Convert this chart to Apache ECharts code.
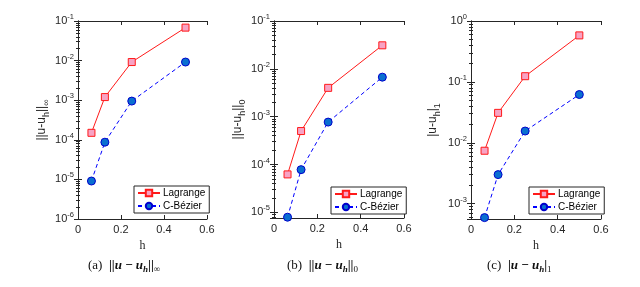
<!DOCTYPE html>
<html>
<head>
<meta charset="utf-8">
<script src="https://cdn.jsdelivr.net/npm/echarts@6/dist/echarts.min.js"></script>
<style>
html,body{margin:0;padding:0;background:#fff;}
#c{width:640px;height:287px;}
</style>
</head>
<body>
<div id="c"></div>
<script>
// ---- data ----
const hValues = [0.0625, 0.125, 0.25, 0.5];
const seriesNames = ['Lagrange', 'C-Bézier'];
const lagInf = [1.5e-4, 1.2e-3, 9.2e-3, 6.8e-2];
const bezInf = [9.1e-6, 8.7e-5, 9.5e-4, 9.2e-3];
const lagL2 = [6.2e-5, 5.0e-4, 4.0e-3, 3.1e-2];
const bezL2 = [7.9e-6, 7.8e-5, 7.7e-4, 6.7e-3];
const lagH1 = [7.4e-3, 3.1e-2, 1.24e-1, 5.8e-1];
const bezH1 = [5.9e-4, 3.0e-3, 1.56e-2, 6.2e-2];
const xTicks = [0, 0.2, 0.4, 0.6];
const yRanges = [[1e-6, 1e-1], [7.6e-6, 1e-1], [5.6e-4, 1]];
const yNames = ['{m|||u-u}{s|h}{m|||}{s|∞}', '{m|||u-u}{s|h}{m|||}{s|0}', '{m||u-u}{s|h}{m||}{s|1}'];
const captions = [
  '{n|(a)  }{b|||}{bi|u}{b| − }{bi|u}{si|h}{b|||}{s|∞}',
  '{n|(b)  }{b|||}{bi|u}{b| − }{bi|u}{si|h}{b|||}{s|0}',
  '{n|(c)  }{b||}{bi|u}{b| − }{bi|u}{si|h}{b||}{s|1}'
];

// ---- layout ----
const grids = [
  {left: 78, top: 21, width: 129, height: 198},
  {left: 274, top: 21, width: 130, height: 197},
  {left: 471, top: 21, width: 130, height: 198}
];
const nameGaps = [27, 25, 29];
const legendPos = [[134, 186], [331, 187], [529, 187]];
const captionPos = [[88, 259], [287, 259], [487, 259]];
const panels = [[lagInf, bezInf], [lagL2, bezL2], [lagH1, bezH1]];

const FONT = 'Liberation Sans';
const SERIF = 'Liberation Serif';
const RED = '#ff1a1a';
const BLUE = '#0000ff';

function powLabel(v) {
  const l = Math.log10(v);
  const n = Math.round(l);
  if (Math.abs(l - n) > 1e-6) return '';
  return '{b|10}{e|' + n + '}';
}

const option = {
  animation: false,
  backgroundColor: '#fff',
  textStyle: {fontFamily: FONT},
  grid: [], xAxis: [], yAxis: [], series: [], legend: [], graphic: []
};

panels.forEach((p, i) => {
  option.grid.push(Object.assign({containLabel: false}, grids[i]));
  const axLine = {show: true, lineStyle: {color: '#262626', width: 1}};
  option.xAxis.push({
    type: 'value', gridIndex: i, min: xTicks[0], max: xTicks[xTicks.length - 1], interval: 0.2,
    position: 'bottom',
    axisLine: axLine,
    axisTick: {inside: true, length: 4, lineStyle: {color: '#262626'}},
    axisLabel: {fontSize: 11, color: '#262626', margin: 5, fontFamily: FONT},
    splitLine: {show: false},
    name: 'h', nameLocation: 'middle', nameGap: 20,
    nameTextStyle: {fontFamily: SERIF, fontSize: 12, color: '#262626'}
  });
  option.xAxis.push({
    type: 'value', gridIndex: i, min: xTicks[0], max: xTicks[xTicks.length - 1], interval: 0.2,
    position: 'top',
    axisLine: axLine,
    axisTick: {inside: true, length: 4, lineStyle: {color: '#262626'}},
    axisLabel: {show: false}, splitLine: {show: false}
  });
  option.yAxis.push({
    type: 'log', logBase: 10, gridIndex: i, min: yRanges[i][0], max: yRanges[i][1],
    position: 'left',
    axisLine: axLine,
    axisTick: {inside: true, length: 4, lineStyle: {color: '#262626'}},
    minorTick: {show: true, splitNumber: 9, length: 2, lineStyle: {color: '#262626'}},
    axisLabel: {
      formatter: powLabel, margin: 4, color: '#262626',
      rich: {
        b: {fontSize: 11, fontFamily: FONT, color: '#262626', lineHeight: 16},
        e: {fontSize: 7.5, fontFamily: FONT, color: '#262626', verticalAlign: 'top'}
      }
    },
    splitLine: {show: false},
    name: yNames[i], nameLocation: 'middle', nameGap: nameGaps[i], nameRotate: 90,
    nameTextStyle: {
      color: '#262626',
      rich: {
        m: {fontSize: 12, fontFamily: FONT, color: '#262626', lineHeight: 19},
        s: {fontSize: 9, fontFamily: FONT, color: '#262626', verticalAlign: 'bottom'}
      }
    }
  });
  option.yAxis.push({
    type: 'log', logBase: 10, gridIndex: i, min: yRanges[i][0], max: yRanges[i][1],
    position: 'right',
    axisLine: axLine,
    axisTick: {inside: true, length: 4, lineStyle: {color: '#262626'}},
    minorTick: {show: true, splitNumber: 9, length: 2, lineStyle: {color: '#262626'}},
    axisLabel: {show: false}, splitLine: {show: false}
  });

  const xi = i * 2, yi = i * 2;
  option.series.push({
    name: seriesNames[0], type: 'line', xAxisIndex: xi, yAxisIndex: yi,
    data: hValues.map((h, k) => [h, p[0][k]]),
    symbol: 'rect', symbolSize: 7,
    lineStyle: {color: RED, width: 1},
    itemStyle: {color: '#f7a3c4', borderColor: RED, borderWidth: 1},
    clip: false, z: 3
  });
  option.series.push({
    name: seriesNames[1], type: 'line', xAxisIndex: xi, yAxisIndex: yi,
    data: hValues.map((h, k) => [h, p[1][k]]),
    symbol: 'circle', symbolSize: 8,
    lineStyle: {color: BLUE, width: 1, type: [4, 3]},
    itemStyle: {color: '#0a6fd0', borderColor: '#0000cc', borderWidth: 1},
    clip: false, z: 3
  });

  option.legend.push({
    data: seriesNames.slice(),
    orient: 'vertical',
    left: legendPos[i][0], top: legendPos[i][1],
    itemWidth: 22, itemHeight: 8, itemGap: 3,
    padding: [2, 4, 2, 3],
    borderColor: '#262626', borderWidth: 1, backgroundColor: '#fff',
    textStyle: {fontSize: 10, fontFamily: FONT, color: '#000', padding: [0, 0, 0, -2]},
    selectedMode: false
  });

  option.graphic.push({
    type: 'text', left: captionPos[i][0], top: captionPos[i][1],
    style: {
      text: captions[i],
      rich: {
        n: {fontFamily: SERIF, fontSize: 13, fill: '#111', lineHeight: 17},
        b: {fontFamily: SERIF, fontSize: 13, fontWeight: 'bold', fill: '#111'},
        bi: {fontFamily: SERIF, fontSize: 13, fontWeight: 'bold', fontStyle: 'italic', fill: '#111'},
        si: {fontFamily: SERIF, fontSize: 9, fontWeight: 'bold', fontStyle: 'italic', fill: '#111', verticalAlign: 'bottom'},
        s: {fontFamily: SERIF, fontSize: 9, fill: '#111', verticalAlign: 'bottom'}
      }
    }
  });
});

const chart = echarts.init(document.getElementById('c'), null, {renderer: 'canvas'});
chart.setOption(option);
</script>
</body>
</html>
